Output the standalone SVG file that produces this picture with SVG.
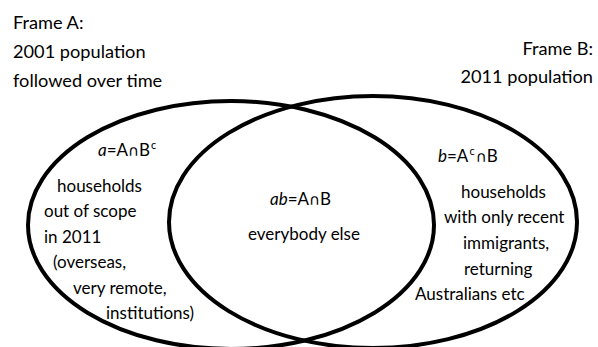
<svg xmlns="http://www.w3.org/2000/svg" width="598" height="347" viewBox="0 0 598 347">
<style>
text{font-family:Lato,"Open Sans","Liberation Sans",sans-serif;fill:#000}
.t{font-size:18.2px}
.b{font-size:17px}
.r{text-anchor:end}
.e{fill:none;stroke:#000;stroke-width:4}
.sup{font-size:11px}
.cap{font-family:"DejaVu Sans",sans-serif;font-size:15px}
</style>
<rect width="598" height="347" fill="#fff"/>
<g id="connectors"></g>
<g id="frameA">
<ellipse class="e" cx="231" cy="225" rx="203" ry="124"/>
<text class="t" x="13" y="29">Frame A:</text>
<text class="t" x="13" y="58">2001 population</text>
<text class="t" x="13" y="87">followed over time</text>
</g>
<g id="frameB">
<ellipse class="e" cx="373" cy="222" rx="204" ry="126"/>
<text class="t r" x="593" y="55">Frame B:</text>
<text class="t r" x="593" y="83">2011 population</text>
</g>
<g id="regionA">
<text class="b" x="98" y="156"><tspan font-style="italic">a</tspan>=A<tspan class="cap">∩</tspan>B<tspan class="sup" dx="1" dy="-7">c</tspan></text>
<text class="b" x="57" y="192">households</text>
<text class="b" x="44" y="217">out of scope</text>
<text class="b" x="44" y="243">in 2011</text>
<text class="b" x="53" y="268">(overseas,</text>
<text class="b" x="73" y="294">very remote,</text>
<text class="b" x="106" y="319">institutions)</text>
</g>
<g id="regionAB">
<text class="b" x="270" y="205"><tspan font-style="italic">ab</tspan>=A<tspan class="cap">∩</tspan>B</text>
<text class="b" x="248" y="240">everybody else</text>
</g>
<g id="regionB">
<text class="b" x="438" y="162"><tspan font-style="italic">b</tspan>=A<tspan class="sup" dx="1" dy="-7">c</tspan><tspan class="cap" dx="1" dy="7">∩</tspan>B</text>
<text class="b" x="461" y="198">households</text>
<text class="b" x="444" y="223">with only recent</text>
<text class="b" x="463" y="249">immigrants,</text>
<text class="b" x="464" y="275">returning</text>
<text class="b" x="415" y="300">Australians etc</text>
</g>
</svg>
